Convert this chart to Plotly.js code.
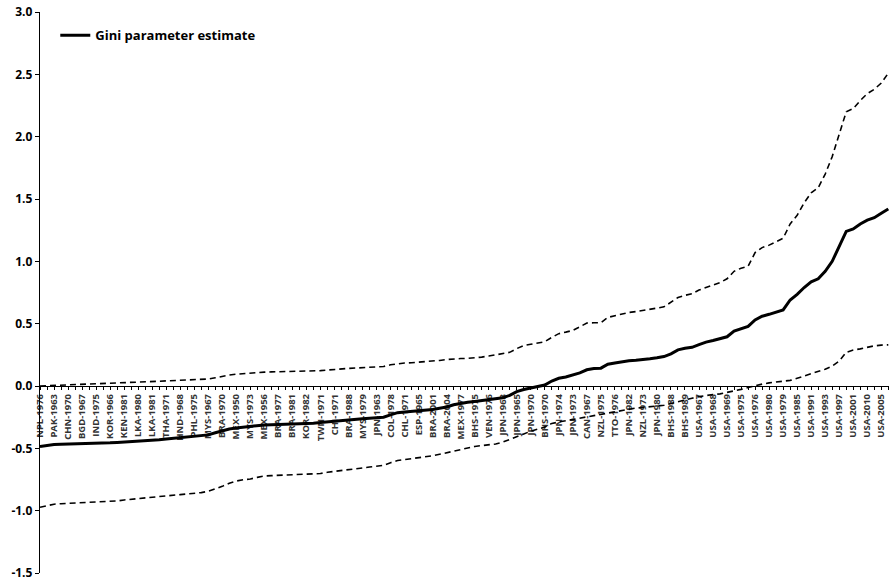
<!DOCTYPE html>
<html>
<head>
<meta charset="utf-8">
<script src="https://cdn.plot.ly/plotly-3.0.1.min.js"></script>
<style>
html,body{margin:0;padding:0;background:#fff;}
#chart{width:889px;height:584px;}
</style>
</head>
<body>
<div id="chart"></div>
<script>
// Category labels (every other observation is labelled)
var tickLabels = ["NPL-1976","PAK-1963","CHN-1970","BGD-1967","IND-1975","KOR-1966","KEN-1981","LKA-1980","LKA-1981","THA-1971",
  "HND-1968","PHL-1975","MYS-1967","BRA-1970","MEX-1950","MYS-1973","MEX-1956","BRA-1977","BRA-1981","KOR-1982",
  "TWN-1971","CHI-1971","BRA-1988","MYS-1979","JPN-1963","COL-1978","CHL-1971","ESP-1965","BRA-2001","BRA-2004",
  "MEX-1977","BHS-1975","VEN-1976","JPN-1968","JPN-1965","JPN-1970","BHS-1970","JPN-1974","JPN-1973","CAN-1967",
  "NZL-1975","TTO-1976","JPN-1982","NZL-1973","JPN-1980","BHS-1988","BHS-1989","USA-1967","USA-1968","USA-1969",
  "USA-1975","USA-1976","USA-1980","USA-1979","USA-1985","USA-1991","USA-1993","USA-1997","USA-2001","USA-2010","USA-2005"];

// Gini parameter estimate (solid)
var estimate = [-0.485,-0.475,-0.470,-0.468,-0.467,-0.466,-0.465,-0.463,-0.461,-0.459,
  -0.456,-0.453,-0.450,-0.447,-0.443,-0.440,-0.436,-0.432,-0.426,-0.421,
  -0.417,-0.413,-0.408,-0.402,-0.392,-0.375,-0.358,-0.345,-0.336,-0.330,
  -0.322,-0.316,-0.312,-0.310,-0.309,-0.308,-0.307,-0.305,-0.302,-0.298,
  -0.293,-0.287,-0.281,-0.276,-0.271,-0.266,-0.262,-0.258,-0.254,-0.250,
  -0.232,-0.214,-0.208,-0.203,-0.198,-0.194,-0.188,-0.178,-0.168,-0.150,
  -0.138,-0.130,-0.124,-0.118,-0.112,-0.106,-0.095,-0.075,-0.045,-0.028,
  -0.015,-0.008,0.008,0.040,0.062,0.072,0.086,0.105,0.130,0.140,
  0.143,0.175,0.185,0.195,0.202,0.206,0.210,0.218,0.226,0.236,
  0.258,0.290,0.302,0.310,0.332,0.352,0.365,0.378,0.395,0.440,
  0.460,0.478,0.530,0.560,0.575,0.592,0.610,0.690,0.735,0.790,
  0.835,0.860,0.920,1.000,1.120,1.240,1.260,1.300,1.330,1.350,
  1.385,1.420];

// Upper confidence bound (dashed)
var upper = [0.000,0.002,0.003,0.004,0.006,0.008,0.010,0.012,0.014,0.016,
  0.018,0.020,0.023,0.025,0.030,0.034,0.036,0.038,0.041,0.043,
  0.045,0.048,0.050,0.053,0.056,0.066,0.078,0.088,0.095,0.100,
  0.105,0.108,0.111,0.113,0.114,0.115,0.116,0.118,0.120,0.121,
  0.123,0.128,0.134,0.138,0.141,0.144,0.146,0.149,0.152,0.156,
  0.170,0.180,0.184,0.187,0.190,0.193,0.198,0.205,0.212,0.218,
  0.220,0.222,0.225,0.232,0.240,0.248,0.256,0.270,0.300,0.325,
  0.335,0.345,0.355,0.390,0.420,0.432,0.446,0.475,0.505,0.507,
  0.508,0.550,0.565,0.578,0.590,0.597,0.605,0.615,0.625,0.635,
  0.670,0.710,0.727,0.740,0.770,0.790,0.810,0.830,0.860,0.920,
  0.945,0.960,1.070,1.110,1.130,1.155,1.185,1.300,1.370,1.470,
  1.550,1.590,1.700,1.840,2.020,2.200,2.225,2.290,2.345,2.380,
  2.430,2.510];

// Lower confidence bound (dashed)
var lower = [-0.973,-0.958,-0.948,-0.944,-0.941,-0.938,-0.936,-0.934,-0.932,-0.930,
  -0.928,-0.922,-0.914,-0.908,-0.902,-0.896,-0.891,-0.886,-0.881,-0.876,
  -0.871,-0.866,-0.861,-0.855,-0.845,-0.828,-0.805,-0.780,-0.762,-0.752,
  -0.746,-0.733,-0.722,-0.719,-0.717,-0.715,-0.714,-0.713,-0.710,-0.706,
  -0.702,-0.692,-0.684,-0.678,-0.670,-0.663,-0.657,-0.650,-0.643,-0.637,
  -0.615,-0.598,-0.590,-0.583,-0.577,-0.570,-0.560,-0.548,-0.535,-0.518,
  -0.505,-0.495,-0.485,-0.478,-0.470,-0.465,-0.450,-0.430,-0.410,-0.385,
  -0.362,-0.348,-0.330,-0.300,-0.292,-0.278,-0.268,-0.258,-0.250,-0.240,
  -0.228,-0.215,-0.205,-0.195,-0.184,-0.177,-0.172,-0.168,-0.163,-0.155,
  -0.140,-0.128,-0.112,-0.098,-0.085,-0.075,-0.068,-0.063,-0.052,-0.040,
  -0.027,-0.012,0.004,0.015,0.025,0.032,0.037,0.045,0.062,0.080,
  0.100,0.120,0.135,0.160,0.200,0.270,0.288,0.298,0.312,0.322,
  0.328,0.330];

var yTicks = [-1.5,-1.0,-0.5,0.0,0.5,1.0,1.5,2.0,2.5,3.0];

var idx = estimate.map(function(_, i){ return i; });
var tickPos = tickLabels.map(function(_, k){ return 2 * k; });
var FONT = '"Open Sans", "Noto Sans", sans-serif';

var traces = [
  {x: idx, y: upper, type: 'scatter', mode: 'lines', showlegend: false,
   line: {color: '#000', width: 1.6, dash: '6px,4px'}, hoverinfo: 'skip'},
  {x: idx, y: lower, type: 'scatter', mode: 'lines', showlegend: false,
   line: {color: '#000', width: 1.6, dash: '6px,4px'}, hoverinfo: 'skip'},
  {x: idx, y: estimate, type: 'scatter', mode: 'lines', name: '<b>Gini parameter estimate</b>',
   line: {color: '#000', width: 3}}
];

var layout = {
  width: 889, height: 584,
  margin: {l: 40, r: 0, t: 12, b: 11, pad: 0},
  paper_bgcolor: '#fff', plot_bgcolor: '#fff',
  font: {family: FONT, color: '#000'},
  showlegend: true,
  legend: {x: 0.018, y: 0.985, xanchor: 'left', yanchor: 'top',
    bgcolor: 'rgba(0,0,0,0)', borderwidth: 0,
    font: {family: FONT, size: 13, color: '#000'}},
  xaxis: {
    range: [0, 121.1], anchor: 'free', position: 1.5 / 4.5,
    tickmode: 'array', tickvals: tickPos,
    ticktext: tickLabels.map(function(s){ return '<b>' + s + '</b>'; }),
    tickangle: -90, ticks: 'outside', ticklen: 3, tickwidth: 1, tickcolor: '#000',
    minor: {tickmode: 'linear', tick0: 0, dtick: 1, ticks: 'outside', ticklen: 3, tickwidth: 1, tickcolor: '#000'},
    tickfont: {family: FONT, size: 9.5, color: '#333'},
    showline: true, linecolor: '#000', linewidth: 1.2,
    showgrid: false, zeroline: false, layer: 'below traces', fixedrange: true
  },
  yaxis: {
    range: [-1.5, 3.0], tickmode: 'array', tickvals: yTicks,
    ticktext: yTicks.map(function(v){ return '<b>' + v.toFixed(1) + '</b>'; }),
    ticks: 'outside', ticklen: 4, tickwidth: 1, tickcolor: '#000',
    tickfont: {family: FONT, size: 12, color: '#000'},
    showline: true, linecolor: '#000', linewidth: 1.2,
    showgrid: false, zeroline: false, fixedrange: true
  }
};

Plotly.newPlot('chart', traces, layout, {displayModeBar: false, staticPlot: true});
</script>
</body>
</html>
